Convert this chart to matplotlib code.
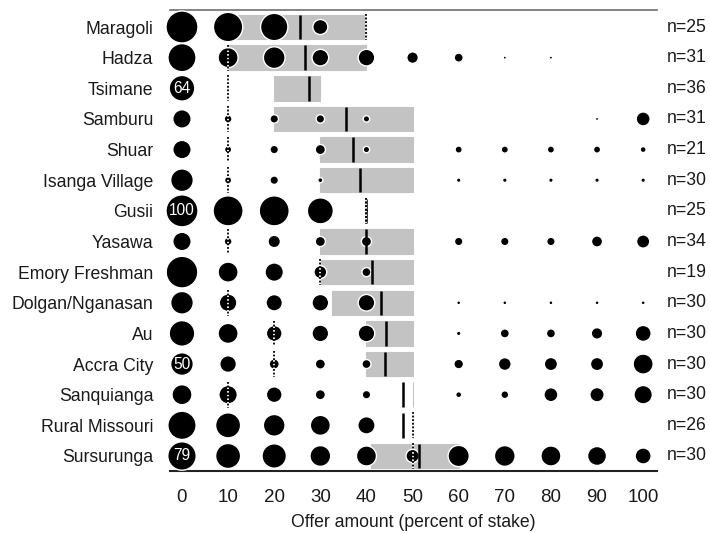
import matplotlib.pyplot as plt
import numpy as np

plt.rcParams['font.family'] = ['Liberation Sans', 'DejaVu Sans']

groups = ['Maragoli', 'Hadza', 'Tsimane', 'Samburu', 'Shuar', 'Isanga Village',
          'Gusii', 'Yasawa', 'Emory Freshman', 'Dolgan/Nganasan', 'Au',
          'Accra City', 'Sanquianga', 'Rural Missouri', 'Sursurunga']
n_obs = [25, 31, 36, 31, 21, 30, 25, 34, 19, 30, 30, 30, 30, 26, 30]
offers = [0, 10, 20, 30, 40, 50, 60, 70, 80, 90, 100]

# percent rejecting each offer (bubble area)
reject = [
    [100, 84, 73, 22, 0, 0, 0, 0, 0, 0, 0],
    [77, 39, 46, 27, 27, 13, 8, 1, 1, 0, 0],
    [64, 1, 0, 0, 0, 0, 0, 0, 0, 0, 0],
    [33, 6, 7, 7, 4, 0, 0, 0, 0, 1, 19],
    [33, 5, 7, 10, 4, 0, 5, 5, 5, 5, 3.5],
    [50, 5, 7, 2.5, 0, 0, 2, 2, 2, 2, 2],
    [100, 88, 88, 66, 2, 0, 0, 0, 0, 0, 0],
    [33, 6, 15, 10, 10, 0, 7, 7, 7, 12, 17],
    [98, 39, 33, 16, 8, 0, 0, 0, 0, 0, 0],
    [50, 30, 26, 27, 27, 0, 1.5, 1.5, 1.5, 1.5, 1.5],
    [64, 39, 24, 27, 27, 0, 2, 8, 8, 13, 25],
    [50, 27, 10, 10, 8, 0, 9, 16, 17, 17, 39],
    [39, 33, 24, 10, 7, 0, 3.5, 6, 19, 20, 33],
    [78, 61, 46, 39, 29, 0, 0, 0, 0, 0, 0],
    [79, 61, 58, 42, 39, 17, 44, 42, 39, 35, 25],
]
zero_labels = {'Tsimane': '64', 'Gusii': '100', 'Accra City': '50', 'Sursurunga': '79'}

# interquartile box, mean (solid) and mode (dotted) of minimum acceptable offer
box_lo = [10, 10, 20, 20, 30, 30, 40, 30, 30, 32.5, 40, 40, 50, 50, 41]
box_hi = [40, 40, 30, 50, 50, 50, 40, 50, 50, 50, 50, 50, 50, 50, 60]
mao_mean = [25.5, 26.7, 27.5, 35.5, 37, 38.6, 40, 40, 41.2, 43.2, 44.3, 44, 48, 48, 51.5]
mao_mode = [40, 10, 10, 10, 10, 10, 40, 10, 30, 10, 20, 20, 10, 50, 50]

box_color = '#c3c3c3'
text_color = '#1a1a1a'
max_area = (2 * 16 * 0.72) ** 2

fig = plt.figure(figsize=(7.1, 5.33), dpi=100)
ax = fig.add_axes([170 / 710, 1 - 471 / 533, 487 / 710, 461 / 533])

rows = np.arange(len(groups))
half = 0.4

ax.barh(rows, np.array(box_hi) - np.array(box_lo), left=box_lo, height=2 * half,
        color=box_color, edgecolor=box_color, linewidth=0.8, zorder=1)

for i, g in enumerate(groups):
    xs = [o for o, r in zip(offers, reject[i]) if r > 0]
    ss = [max_area * r / 100 for r in reject[i] if r > 0]
    ax.scatter(xs, [i] * len(xs), s=ss, color='black', edgecolor='white',
               linewidth=1.0, zorder=3, clip_on=False)
    if g in zero_labels:
        ax.text(0, i, zero_labels[g], color='white', ha='center', va='center',
                fontsize=11.2, zorder=6)
    ax.plot([mao_mean[i]] * 2, [i - half, i + half], color='black', lw=1.8,
            solid_capstyle='butt', zorder=4)
    ax.plot([mao_mode[i]] * 2, [i - 0.42, i + 0.42], color='black', lw=1.3,
            linestyle=(0, (1, 1)), gapcolor='white', zorder=5)
    ax.text(103 + 2.2, i, f'n={n_obs[i]}', ha='left', va='center',
            fontsize=12.7, color=text_color)

ax.set_xlim(-2.6, 103.0)
ax.set_ylim(14.49, -0.555)
ax.set_yticks(rows)
ax.set_yticklabels(groups, fontsize=12.7, color=text_color)
ax.set_xticks(offers)
ax.set_xticklabels([str(o) for o in offers], fontsize=13.5, color=text_color)
ax.tick_params(axis='both', length=0)
ax.tick_params(axis='x', pad=13)
ax.tick_params(axis='y', pad=12)
ax.set_xlabel('Offer amount (percent of stake)', fontsize=12.7, labelpad=6,
              color=text_color)

for side in ['left', 'right']:
    ax.spines[side].set_visible(False)
ax.spines['top'].set_color('#707070')
ax.spines['top'].set_linewidth(1.2)
ax.spines['bottom'].set_color('#222222')
ax.spines['bottom'].set_linewidth(1.5)

fig.savefig('out.png', dpi=100)
